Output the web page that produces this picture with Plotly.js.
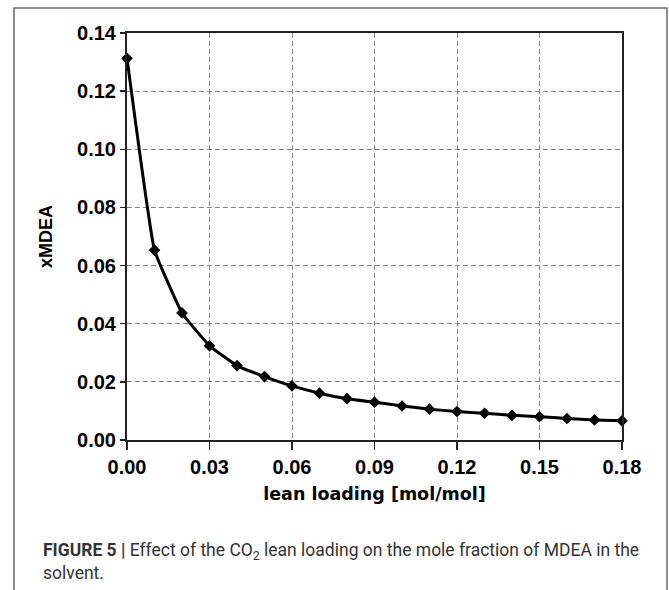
<!DOCTYPE html>
<html>
<head>
<meta charset="utf-8">
<script src="https://cdn.plot.ly/plotly-3.0.1.min.js"></script>
<style>
html,body{margin:0;padding:0;background:#fff;}
#chart{width:669px;height:590px;}
</style>
</head>
<body>
<div id="chart"></div>
<script>
// Data
const leanLoading = [0.00, 0.01, 0.02, 0.03, 0.04, 0.05, 0.06, 0.07, 0.08, 0.09,
                     0.10, 0.11, 0.12, 0.13, 0.14, 0.15, 0.16, 0.17, 0.18];
const xMDEA = [0.1313, 0.0653, 0.0437, 0.0324, 0.0256, 0.0218, 0.0186, 0.0161, 0.0142, 0.0130,
               0.0117, 0.0106, 0.0098, 0.0092, 0.0085, 0.0080, 0.0074, 0.0069, 0.0066];
const xTickVals = [0.00, 0.03, 0.06, 0.09, 0.12, 0.15, 0.18];
const yTickVals = [0.00, 0.02, 0.04, 0.06, 0.08, 0.10, 0.12, 0.14];
const xTitle = 'lean loading [mol/mol]';
const yTitle = 'xMDEA';
const caption = '<b>FIGURE 5 |</b> Effect of the CO<sub>2</sub> lean loading on the mole fraction of MDEA in the<br>solvent.';

const L = 127, R = 47, T = 33, B = 150, W = 669, H = 590;
const pw = W - L - R, ph = H - T - B;
const px = v => (v - L) / pw;
const py = v => (H - B - v) / ph;

const trace = {
  x: leanLoading,
  y: xMDEA,
  type: 'scatter',
  mode: 'lines+markers',
  line: {color: '#000', width: 3, shape: 'spline', smoothing: 0.3},
  marker: {symbol: 'diamond', size: 9, color: '#000'},
  cliponaxis: false,
  hoverinfo: 'skip'
};

const tickFont = {family: 'Liberation Sans, Arial, sans-serif', size: 20, color: '#000', weight: 'bold'};

const layout = {
  width: W, height: H,
  margin: {l: L, r: R, t: T, b: B, pad: 0},
  paper_bgcolor: '#fff', plot_bgcolor: '#fff',
  showlegend: false,
  xaxis: {
    range: [0, 0.18], tickvals: xTickVals, tickformat: '.2f',
    showgrid: true, gridcolor: '#888', gridwidth: 1, griddash: '5px,3px',
    zeroline: false,
    showline: true, linecolor: '#222', linewidth: 2, mirror: true,
    ticks: 'outside', ticklen: 8, tickwidth: 1.5, tickcolor: '#222',
    tickfont: tickFont,
    title: {text: xTitle, font: {family: 'DejaVu Sans, sans-serif', size: 17.5, color: '#000', weight: 'bold'}, standoff: 11},
    automargin: false, fixedrange: true
  },
  yaxis: {
    range: [0, 0.14], tickvals: yTickVals, tickformat: '.2f',
    showgrid: true, gridcolor: '#888', gridwidth: 1, griddash: '5px,3px',
    zeroline: false,
    showline: true, linecolor: '#222', linewidth: 2, mirror: true,
    ticks: 'outside', ticklen: 5, tickwidth: 1.5, tickcolor: '#222',
    tickfont: tickFont,
    title: {text: yTitle, font: {family: 'Liberation Sans, Arial, sans-serif', size: 18, color: '#000', weight: 'bold'}, standoff: 20},
    automargin: false, fixedrange: true
  },
  shapes: [
    {type: 'rect', xref: 'paper', yref: 'paper', x0: px(14), x1: px(667), y0: py(8), y1: py(620),
     line: {color: '#6a6a6a', width: 1.5}, fillcolor: 'rgba(0,0,0,0)', layer: 'below'}
  ],
  annotations: [
    {text: caption, xref: 'paper', yref: 'paper', x: px(41), y: py(538), xanchor: 'left', yanchor: 'top',
     align: 'left', showarrow: false,
     font: {family: 'Roboto, sans-serif', size: 17.5, color: '#333'}}
  ]
};

Plotly.newPlot('chart', [trace], layout, {displayModeBar: false, staticPlot: true});
</script>
</body>
</html>
